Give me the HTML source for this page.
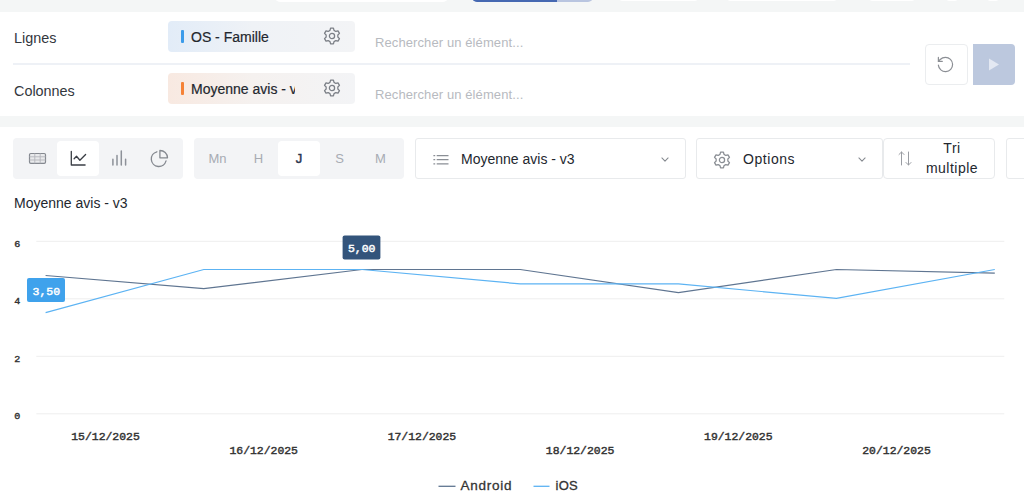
<!DOCTYPE html>
<html><head><meta charset="utf-8">
<style>
*{box-sizing:border-box;margin:0;padding:0}
html,body{width:1024px;height:495px;overflow:hidden;background:#f4f6f6;font-family:"Liberation Sans",sans-serif;color:#2b2f36}
.abs{position:absolute}
#top{position:absolute;left:0;top:12px;width:1024px;height:104px;background:#fff}
#main{position:absolute;left:0;top:127px;width:1024px;height:368px;background:#fff}
.lbl{position:absolute;left:14px;font-size:14.4px;color:#33373d;line-height:16px}
.chip{position:absolute;left:168px;width:187px;height:31px;border-radius:4px}
.chip .bar{position:absolute;left:13px;top:9px;width:3px;height:13px;border-radius:1px}
.chip .t{position:absolute;left:23px;top:8px;font-size:14px;line-height:16px;color:#23272e;white-space:nowrap;overflow:hidden;width:104px;-webkit-text-stroke:.2px #23272e}
.chip svg{position:absolute;left:154.800px;top:6.400px}
.ph{position:absolute;left:375px;font-size:13px;color:#b7bac0;line-height:14px;letter-spacing:.1px}
.grp{position:absolute;top:138px;height:41px;background:#f3f4f6;border-radius:4px}
.grp .b{position:absolute;top:3px;height:35px;border-radius:4px;text-align:center;font-size:13px;line-height:36px;color:#a7abb3}
.grp .b.on{background:#fff;color:#2b3650;-webkit-text-stroke:.45px #2b3650}
.dd{position:absolute;top:138px;height:41px;background:#fff;border:1px solid #e8eaec;border-radius:3px}
.dd .t{position:absolute;font-size:14px;line-height:16px;color:#23272e;white-space:nowrap}
svg{display:block;overflow:visible}
</style></head><body>
<!-- top strip remnants -->
<div class="abs" style="left:275px;top:-8px;width:173px;height:10px;background:#fff;border-radius:8px"></div>
<div class="abs" style="left:472px;top:-8px;width:121px;height:10px;background:#b9c5e0;border-radius:8px;overflow:hidden"><div style="width:85px;height:10px;background:#4669b2"></div></div>
<div class="abs" style="left:618px;top:-8px;width:81px;height:9px;background:#fff;border-radius:8px"></div>
<div class="abs" style="left:726px;top:-8px;width:112px;height:9px;background:#fff;border-radius:8px"></div>
<div class="abs" style="left:868px;top:-8px;width:48px;height:9px;background:#fff;border-radius:8px"></div>
<div class="abs" style="left:945px;top:-8px;width:14px;height:9px;background:#fff;border-radius:8px"></div>
<div class="abs" style="left:986px;top:-8px;width:14px;height:9px;background:#fff;border-radius:8px"></div>

<div id="top">
  <div class="lbl" style="top:18px">Lignes</div>
  <div class="lbl" style="top:71px">Colonnes</div>
  <div class="abs" style="left:13px;top:51px;width:897px;height:2px;background:#eef1f6"></div>
  <div class="chip" style="top:9px;background:linear-gradient(90deg,#e2ecf8 0%,#eff2f6 45%,#f3f4f6 100%)">
    <div class="bar" style="background:#3b9bea"></div><div class="t">OS - Famille</div>
    <svg width="18" height="18" viewBox="0 0 20 20" fill="none" stroke="#7b7f86" stroke-width="1.400" stroke-linejoin="round"><path d="M7.74 3.80 L8.40 1.35 L11.60 1.35 L12.26 3.80 L14.24 4.94 L16.69 4.28 L18.30 7.06 L16.50 8.85 L16.50 11.15 L18.30 12.94 L16.69 15.72 L14.24 15.06 L12.26 16.20 L11.60 18.65 L8.40 18.65 L7.74 16.20 L5.76 15.06 L3.31 15.72 L1.70 12.94 L3.50 11.15 L3.50 8.85 L1.70 7.06 L3.31 4.28 L5.76 4.94Z"/><circle cx="10" cy="10" r="2.900"/></svg>
  </div>
  <div class="chip" style="top:61px;background:linear-gradient(90deg,#f8e9e1 0%,#f5f1ef 45%,#f3f4f6 100%)">
    <div class="bar" style="background:#f58237"></div><div class="t">Moyenne avis - v3</div>
    <svg width="18" height="18" viewBox="0 0 20 20" fill="none" stroke="#7b7f86" stroke-width="1.400" stroke-linejoin="round"><path d="M7.74 3.80 L8.40 1.35 L11.60 1.35 L12.26 3.80 L14.24 4.94 L16.69 4.28 L18.30 7.06 L16.50 8.85 L16.50 11.15 L18.30 12.94 L16.69 15.72 L14.24 15.06 L12.26 16.20 L11.60 18.65 L8.40 18.65 L7.74 16.20 L5.76 15.06 L3.31 15.72 L1.70 12.94 L3.50 11.15 L3.50 8.85 L1.70 7.06 L3.31 4.28 L5.76 4.94Z"/><circle cx="10" cy="10" r="2.900"/></svg>
  </div>
  <div class="ph" style="top:24px">Rechercher un élément...</div>
  <div class="ph" style="top:76px">Rechercher un élément...</div>
  <div class="abs" style="left:925px;top:32px;width:43px;height:41px;border:1px solid #ebedef;border-radius:4px;background:#fff">
    <svg style="position:absolute;left:10.100px;top:9.900px" width="19" height="19" viewBox="0 0 24 24" fill="none" stroke="#8b8e94" stroke-width="1.500" stroke-linecap="round" stroke-linejoin="round"><path d="M3 12.800a9 9 0 1 0 9-9.800 9.750 9.750 0 0 0-6.740 2.740L3 8"/><path d="M3 3v5h5"/></svg>
  </div>
  <div class="abs" style="left:973px;top:32px;width:42px;height:41px;background:#bcc8de;border-radius:0 4px 4px 0">
    <svg style="position:absolute;left:14.500px;top:14px" width="12" height="13" viewBox="0 0 12 13"><path d="M1 0.5 L11 6.5 L1 12.5Z" fill="#e3e8f2"/></svg>
  </div>
</div>

<div id="main"></div>

<!-- toolbar -->
<div class="grp" style="left:13px;width:170px">
  <div class="b" style="left:3px;width:41px"></div>
  <div class="b on" style="left:44px;width:42px"></div>
  <svg class="abs" style="left:15px;top:14px" width="19" height="13" viewBox="0 0 19 13" fill="none" stroke="#858990" stroke-width="1.2"><rect x="1.5" y="1.5" width="16" height="9.8" rx="1.3" fill="#e9eaec"/><path d="M1.5 4.8h16M1.5 8h16M6.8 1.5v9.8M12.2 1.500v9.800" stroke-width=".9" stroke="#b3b6bb"/></svg>
  <svg class="abs" style="left:57px;top:13px" width="16" height="15" viewBox="0 0 16 15" fill="none" stroke="#3a3e45" stroke-width="1.3" stroke-linecap="round" stroke-linejoin="round"><path d="M1.3 0.400V14h13.800"/><path d="M4.100 7.800L6.500 5.300L9.900 9.200L15.600 3.500"/></svg>
  <svg class="abs" style="left:98px;top:12px" width="16" height="16" viewBox="0 0 16 16" fill="none" stroke="#8d9199" stroke-width="1.5" stroke-linecap="round"><path d="M1.900 9.200V15M6 5.400V15M10.300 1V15M14.600 9.200V15"/></svg>
  <svg class="abs" style="left:137px;top:12px" width="18" height="18" viewBox="0 0 18 18" fill="none" stroke="#858990" stroke-width="1.3" stroke-linecap="round" stroke-linejoin="round"><path d="M6.860 1.760A7.500 7.500 0 1 0 16.040 10.940"/><path d="M9.900 0.500A7.500 7.500 0 0 1 17.500 7.800H9.900Z"/></svg>
</div>
<div class="grp" style="left:194px;width:210px">
  <div class="b" style="left:3px;width:41px">Mn</div>
  <div class="b" style="left:44px;width:41px">H</div>
  <div class="b on" style="left:84px;width:42px">J</div>
  <div class="b" style="left:125px;width:41px">S</div>
  <div class="b" style="left:166px;width:41px">M</div>
</div>
<div class="dd" style="left:415px;width:271px">
  <svg class="abs" style="left:16.500px;top:16.300px" width="17" height="10" viewBox="0 0 17 10" fill="none" stroke="#8a8e95" stroke-width="1.200"><path d="M3.700 0.600h11.800M3.700 4.700h11.800M3.700 8.800h11.800"/><path d="M0.400 0.600h1.800M0.400 4.700h1.800M0.400 8.800h1.800"/></svg>
  <div class="t" style="left:45px;top:12px">Moyenne avis - v3</div>
  <svg class="abs" style="left:245px;top:18px" width="8" height="5.500" viewBox="0 0 9 6" fill="none" stroke="#85898f" stroke-width="1.2" stroke-linecap="round" stroke-linejoin="round"><path d="M1 1l3.5 3.5L8 1"/></svg>
</div>
<div class="dd" style="left:696px;width:187px">
  <svg class="abs" style="left:16px;top:11.600px" width="18" height="18" viewBox="0 0 20 20" fill="none" stroke="#8a8e94" stroke-width="1.400" stroke-linejoin="round"><path d="M7.74 3.80 L8.40 1.35 L11.60 1.35 L12.26 3.80 L14.24 4.94 L16.69 4.28 L18.30 7.06 L16.50 8.85 L16.50 11.15 L18.30 12.94 L16.69 15.72 L14.24 15.06 L12.26 16.20 L11.60 18.65 L8.40 18.65 L7.74 16.20 L5.76 15.06 L3.31 15.72 L1.70 12.94 L3.50 11.15 L3.50 8.85 L1.70 7.06 L3.31 4.28 L5.76 4.94Z"/><circle cx="10" cy="10" r="2.900"/></svg>
  <div class="t" style="left:46px;top:12px;letter-spacing:.55px">Options</div>
  <svg class="abs" style="left:161px;top:18px" width="8" height="5.500" viewBox="0 0 9 6" fill="none" stroke="#85898f" stroke-width="1.2" stroke-linecap="round" stroke-linejoin="round"><path d="M1 1l3.5 3.5L8 1"/></svg>
</div>
<div class="dd" style="left:883px;width:112px;border-radius:4px">
  <svg class="abs" style="left:13.500px;top:12.300px" width="14" height="15" viewBox="0 0 14 15" fill="none" stroke="#9a9da3" stroke-width="1" stroke-linecap="round" stroke-linejoin="round"><path d="M3.5 14V1M1 3.5L3.5 1 6 3.5"/><path d="M10.5 1v13M8 11.5l2.5 2.5 2.5-2.5"/></svg>
  <div class="t" style="left:38px;top:-1px;width:60px;text-align:center;line-height:20px;letter-spacing:.5px">Tri<br>multiple</div>
</div>
<div class="dd" style="left:1006px;width:30px"></div>

<div class="abs" style="left:14px;top:195px;font-size:14px;line-height:16px;color:#23272e">Moyenne avis - v3</div>

<!-- chart -->
<svg class="abs" style="left:0;top:0" width="1024" height="495" viewBox="0 0 1024 495">
  <g stroke="#eeeeee" stroke-width="1">
    <path d="M36.300 241.300H1004.300M36.300 298.800H1004.300M36.300 356.300H1004.300M36.300 413.800H1004.300"/>
  </g>
  <polyline fill="none" stroke="#5f7591" stroke-width="1.2" points="45.6,275.500 203.800,288.700 362,269.500 520.200,269.500 678.400,292.700 836.400,269.500 994.800,273.100"/>
  <polyline fill="none" stroke="#5cb3f3" stroke-width="1.2" points="45.6,312.700 203.800,269.500 362,269.500 520.200,283.900 678.400,283.900 836.400,298.400 994.800,269.500"/>
  <rect x="27" y="278" width="38" height="24" rx="2" fill="#3fa2ec"/>
  <rect x="342.600" y="235.500" width="37.800" height="24" rx="2" fill="#33547b"/>
  <g font-family="Liberation Mono" font-size="10px" fill="#fff" stroke="#fff" stroke-width="0.4" text-anchor="middle">
    <text transform="translate(46.300 294.700) scale(1.15 1)">3,50</text>
    <text transform="translate(361.700 252.200) scale(1.15 1)">5,00</text>
  </g>
  <g font-family="Liberation Mono" font-size="10px" fill="#333" stroke="#333" stroke-width="0.4" text-anchor="middle">
    <text font-size="9.500px" transform="translate(17.300 246.5) scale(1.06 1)">6</text><text font-size="9.500px" transform="translate(17.300 304.0) scale(1.06 1)">4</text><text font-size="9.500px" transform="translate(17.300 361.5) scale(1.06 1)">2</text><text font-size="9.500px" transform="translate(17.300 419.0) scale(1.06 1)">0</text>
  </g>
  <g font-family="Liberation Mono" font-size="10px" fill="#333" stroke="#333" stroke-width="0.4" text-anchor="middle">
    <text transform="translate(105.500 440) scale(1.143 1)">15/12/2025</text>
    <text transform="translate(263.700 453.500) scale(1.143 1)">16/12/2025</text>
    <text transform="translate(421.900 440) scale(1.143 1)">17/12/2025</text>
    <text transform="translate(580.100 453.500) scale(1.143 1)">18/12/2025</text>
    <text transform="translate(738.300 440) scale(1.143 1)">19/12/2025</text>
    <text transform="translate(896.500 453.500) scale(1.143 1)">20/12/2025</text>
  </g>
  <path d="M438.500 486.300H455.500" stroke="#5f7591" stroke-width="1.3"/>
  <path d="M533.500 486.300H549.500" stroke="#5cb3f3" stroke-width="1.3"/>
  <g font-family="Liberation Sans" font-size="13px" fill="#333">
    <text x="460.500" y="490.300" font-size="13.500px" letter-spacing="0.75" stroke="#333" stroke-width=".3">Android</text>
    <text x="555.500" y="490.300" letter-spacing="0.3" stroke="#333" stroke-width=".3">iOS</text>
  </g>
</svg>
</body></html>
